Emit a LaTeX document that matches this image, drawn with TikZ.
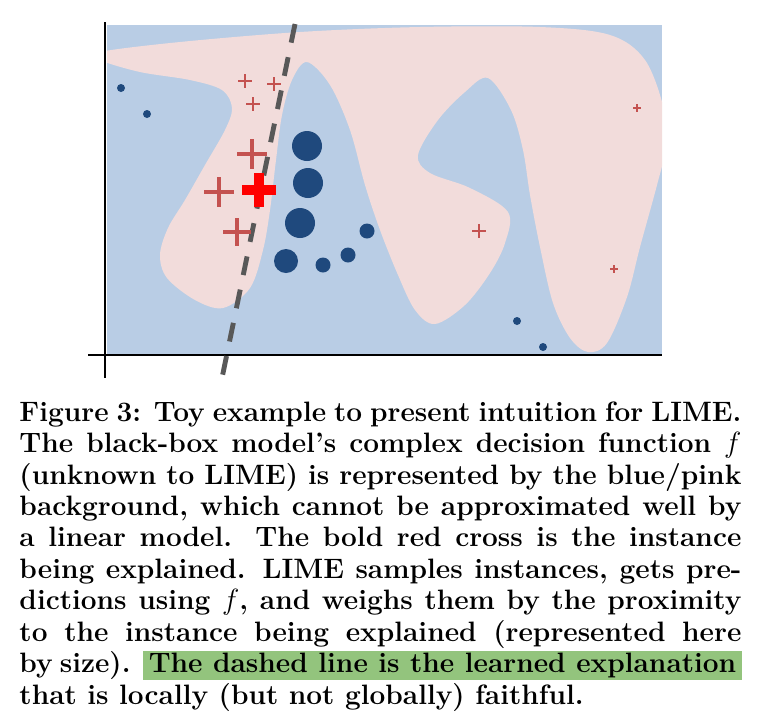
\documentclass[tikz,border=0pt]{standalone}
\usepackage{xcolor}
\usepackage{tikz}
\definecolor{bgblue}{RGB}{185,205,229}
\definecolor{bgpink}{RGB}{242,220,219}
\definecolor{dotblue}{RGB}{31,73,125}
\definecolor{crossred}{RGB}{196,82,80}
\definecolor{boldred}{RGB}{255,0,0}
\definecolor{markgreen}{RGB}{147,196,125}
\definecolor{dashgray}{RGB}{88,88,88}

\begin{document}
\begin{tikzpicture}[x=0.41pt, y=-0.41pt,
    sample/.style={fill=dotblue},
    cross/.style={draw=crossred},
    axis/.style={draw=black, line width=0.8pt}]
    \useasboundingbox (0,0) rectangle (758,722);

    % Decision function (blue/pink background)
    \begin{scope}
        \clip (107,25) rectangle (662,354);
        \fill[bgblue] (107,25) rectangle (662,354);
        \fill[bgpink] plot[smooth cycle, tension=0.55] coordinates {
            (100,52) (180,42) (300,32) (420,27) (540,27) (610,35) (645,60)
            (664,110) (665,150) (657,185) (640,247) (627,297) (607,343)
            (588,352) (570,338) (553,303) (540,247) (530,195) (523,150)
            (511,110) (488,78) (465,92) (438,120) (418,155) (430,173)
            (470,188) (508,212) (505,243) (490,273) (465,305) (435,324)
            (415,310) (398,275) (380,230) (365,185) (350,130) (330,85)
            (307,62) (292,80) (282,115) (276,160) (270,210) (263,250)
            (250,288) (223,308) (195,300) (167,278) (160,255) (168,228)
            (185,200) (205,165) (225,130) (232,108) (222,90) (190,80)
            (140,72) (100,60)};
    \end{scope}

    % Axes
    \draw[axis] (105,22) -- (105,378);
    \draw[axis] (88,355) -- (662,355);

    % Sampled instances of the blue class, sized by proximity
    \foreach \x/\y/\r in {121/88/4, 147/114/4, 307/146/15, 308/183/15,
        300/223/15, 286/261/12, 323/265/7.5, 348/255/7.5, 367/231/7.5,
        517/321/4, 543/347/4}
        \fill[sample] (\x,\y) circle[radius=\r];

    % Learned explanation
    \coordinate (lineTop) at (295,24);
    \coordinate (lineBot) at (222,378);
    \draw[dashgray, line width=2pt, dash pattern=on 7.8pt off 6.1pt] (lineTop) -- (lineBot);

    % Sampled instances of the red class
    \foreach \x/\y/\s/\w in {245/81/7/0.8pt, 274/84/7/0.8pt, 253/104/7/0.8pt,
        252/154/15/1.3pt, 219/192/15/1.3pt, 237/232/14/1.3pt,
        479/231/7/0.8pt, 614/269/4/0.5pt, 637/108/4/0.5pt}
        \draw[cross, line width=\w] (\x-\s,\y) -- (\x+\s,\y) (\x,\y-\s) -- (\x,\y+\s);

    % Instance being explained
    \draw[boldred, line width=3.7pt] (242,190) -- (276,190) (259,173) -- (259,207);

    % Caption
    \node[anchor=north west, inner sep=0pt, text width=296pt, align=justify,
        font=\bfseries\fontsize{11.5}{12.9}\selectfont] (caption) at (19,401) {%
        Figure~3: Toy example to present intuition for LIME.\linebreak
        The black-box model's complex decision function $f$\linebreak
        (unknown to LIME) is represented by the blue/pink\linebreak
        background, which cannot be approximated well by\linebreak
        a linear model. The bold red cross is the instance\linebreak
        being explained. LIME samples instances, gets pre-\linebreak
        dictions using $f$, and weighs them by the proximity\linebreak
        to the instance being explained (represented here\linebreak
        by size). {\setlength{\fboxsep}{0pt}\colorbox{markgreen}{\rule[-2.8pt]{0pt}{11.6pt}\hspace{2.2pt}The dashed line is the learned explanation\hspace{2.2pt}}}\linebreak
        that is locally (but not globally) faithful.};
\end{tikzpicture}
\end{document}
